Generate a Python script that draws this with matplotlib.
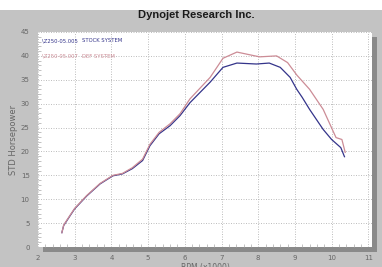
import matplotlib
matplotlib.use("Agg")
import matplotlib.pyplot as plt
from matplotlib.patches import Rectangle

# RPM (x1000) and horsepower
rpm_stock = [2.65, 2.7, 2.87, 3.0, 3.33, 3.69, 4.04, 4.3, 4.57, 4.85, 5.05, 5.3, 5.6, 5.87,
             6.14, 6.69, 7.04, 7.42, 7.95, 8.3, 8.6, 8.87, 9.05, 9.2, 9.4, 9.77, 10.0, 10.25, 10.35]
hp_stock = [3.0, 4.5, 6.5, 8.0, 10.7, 13.2, 14.9, 15.3, 16.4, 18.1, 21.2, 23.7, 25.4, 27.5,
            30.2, 34.5, 37.6, 38.5, 38.3, 38.5, 37.6, 35.5, 33.0, 31.3, 28.8, 24.6, 22.5, 20.8, 18.9]

rpm_def = [2.65, 2.7, 2.87, 3.0, 3.33, 3.69, 4.04, 4.3, 4.57, 4.85, 5.05, 5.3, 5.6, 5.87,
           6.14, 6.69, 7.04, 7.42, 7.85, 8.04, 8.5, 8.8, 9.05, 9.4, 9.77, 10.12, 10.28, 10.37]
hp_def = [3.0, 4.6, 6.6, 8.1, 10.8, 13.3, 15.0, 15.4, 16.6, 18.4, 21.5, 24.0, 25.8, 27.9,
          31.0, 35.5, 39.5, 40.8, 40.1, 39.8, 40.0, 38.6, 36.0, 33.0, 28.8, 22.9, 22.5, 19.8]

legend_runs = ["\\Z250-05.005", "\\Z250-05.007"]
legend_names = ["STOCK SYSTEM", "DEF SYSTEM"]

blue = "#34348a"
red = "#cc8c96"
grey_txt = "#666666"

fig = plt.figure(figsize=(3.82, 2.67), dpi=100)
fig.patch.set_facecolor("white")
W, H = 382.0, 267.0
fig.patches.append(Rectangle((0, 0), 1, 1 - 10 / H, transform=fig.transFigure,
                             facecolor="#c3c3c3", edgecolor="none", zorder=-2))

left, right, top, bottom = 38, 372, 32, 247
# drop shadow
fig.patches.append(Rectangle(((left + 5) / W, 1 - (bottom + 5) / H), (right - left) / W,
                             (bottom - top) / H, transform=fig.transFigure,
                             facecolor="#8a8a8a", edgecolor="none", zorder=-1))

ax = fig.add_axes([left / W, 1 - bottom / H, (right - left) / W, (bottom - top) / H])
ax.set_zorder(2)
ax.set_facecolor("white")
ax.plot(rpm_stock, hp_stock, color=blue, lw=0.9)
ax.plot(rpm_def, hp_def, color=red, lw=0.9)

ax.set_xlim(2, 11.1)
ax.set_ylim(0, 45)
ax.set_xticks(range(2, 12))
ax.set_yticks(range(0, 46, 5))
ax.set_xticks([2 + 0.2 * i for i in range(46)], minor=True)
ax.set_yticks([i for i in range(0, 46)], minor=True)
ax.grid(True, which="major", color="#b4b4b4", ls=(0, (1.2, 1.8)), lw=0.6)
ax.tick_params(which="major", length=0, labelsize=5, colors=grey_txt, pad=6)
ax.tick_params(which="minor", direction="in", length=2, color="#aaaaaa", width=0.5)
for s in ax.spines.values():
    s.set_visible(False)

for i in range(2):
    c = blue if i == 0 else red
    ax.text(2.12, 43.2 - 3.3 * i, legend_runs[i], color=c, fontsize=3.8, va="center")
    ax.text(3.2, 43.2 - 3.3 * i, legend_names[i], color=c, fontsize=3.8, va="center")

ax.set_ylabel("STD Horsepower", fontsize=6, color=grey_txt, labelpad=2)
ax.set_xlabel("RPM (x1000)", fontsize=5.5, color=grey_txt, labelpad=1)
fig.text(196 / W, 1 - 15 / H, "Dynojet Research Inc.", ha="center", va="center",
         fontsize=8, fontweight="bold", color="#1a1a1a", family="Liberation Sans")

fig.savefig("out.png", dpi=100)
